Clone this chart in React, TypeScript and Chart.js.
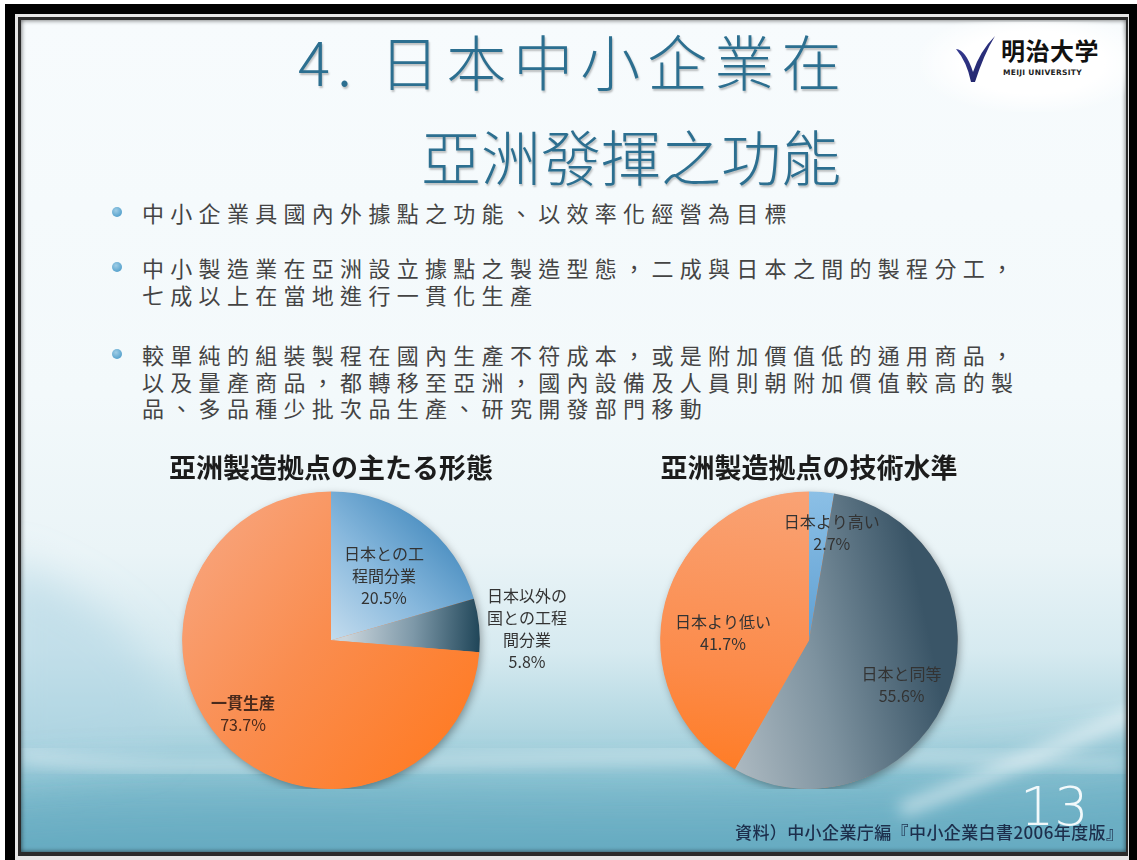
import React, { useEffect, useRef } from "react";
import { Chart, registerables } from "chart.js";

Chart.register(...registerables);

// ---------- data ----------
const slideTitleLine1 = "4. 日本中小企業在";
const slideTitleLine2 = "亞洲發揮之功能";

const bulletLines = [
  ["中小企業具國內外據點之功能、以效率化經營為目標"],
  ["中小製造業在亞洲設立據點之製造型態，二成與日本之間的製程分工，", "七成以上在當地進行一貫化生產"],
  [
    "較單純的組裝製程在國內生產不符成本，或是附加價值低的通用商品，",
    "以及量產商品，都轉移至亞洲，國內設備及人員則朝附加價值較高的製",
    "品、多品種少批次品生產、研究開發部門移動",
  ],
];

const formTitle = "亞洲製造拠点の主たる形態";
const formCategories = ["日本との工程間分業", "日本以外の国との工程間分業", "一貫生産"];
const formLabelLines = [["日本との工", "程間分業"], ["日本以外の", "国との工程", "間分業"], ["一貫生産"]];
const formValues = [20.5, 5.8, 73.7];

const techTitle = "亞洲製造拠点の技術水準";
const techCategories = ["日本より高い", "日本と同等", "日本より低い"];
const techLabelLines = [["日本より高い"], ["日本と同等"], ["日本より低い"]];
const techValues = [2.7, 55.6, 41.7];

const sourceNote = "資料）中小企業庁編『中小企業白書2006年度版』";
const pageNumber = "13";

// ---------- styles ----------
const CJK = '"Noto Sans CJK JP", "Noto Sans CJK TC", sans-serif';
const CJK_TC = '"Noto Sans CJK TC", "Noto Sans CJK JP", sans-serif';

type Stop = [number, string];
type GradSpec = { from: [number, number]; to: [number, number]; stops: Stop[] };

// gradient endpoints expressed as fractions of the radius around the pie centre
const formGradients: GradSpec[] = [
  { from: [0.05, 0.05], to: [0.85, -0.75], stops: [[0, "#c3dcee"], [0.5, "#86b7dc"], [1, "#4389bd"]] },
  { from: [0.1, 0], to: [1, 0.05], stops: [[0, "#c9d4db"], [0.5, "#7d98a8"], [1, "#1f4558"]] },
  { from: [-0.9, -0.6], to: [0.8, 0.8], stops: [[0, "#f8a278"], [0.45, "#fa8d4f"], [1, "#ff7b24"]] },
];
const techGradients: GradSpec[] = [
  { from: [0, -1], to: [0.15, 0], stops: [[0, "#8cc0e6"], [1, "#5f9fd2"]] },
  { from: [-0.5, 0.7], to: [0.9, 0.4], stops: [[0, "#aab7bf"], [0.45, "#7d929f"], [1, "#3a5567"]] },
  { from: [-0.3, -1], to: [-0.5, 1], stops: [[0, "#f9a274"], [0.6, "#fc8b4a"], [1, "#ff7a20"]] },
];

// label placement: [radius factor, angle offset in degrees]
const formLabelPlace = [[0.56, 2.5], [1.32, 2.4], [0.77, 2.8]];
const techLabelPlace = [[0.74, 7.1], [0.69, 5.8], [0.58, -10]];

function makeGradient(chart: any, spec: GradSpec) {
  const area = chart.chartArea;
  if (!area) return spec.stops[1][1];
  const cx = (area.left + area.right) / 2;
  const cy = (area.top + area.bottom) / 2;
  const r = Math.min(area.right - area.left, area.bottom - area.top) / 2;
  const g = chart.ctx.createLinearGradient(
    cx + spec.from[0] * r,
    cy + spec.from[1] * r,
    cx + spec.to[0] * r,
    cy + spec.to[1] * r
  );
  spec.stops.forEach(([o, c]) => g.addColorStop(o, c));
  return g;
}

const pieShadow = {
  id: "pieShadow",
  beforeDatasetsDraw(chart: any) {
    const arc = chart.getDatasetMeta(0).data[0];
    if (!arc) return;
    const p = arc.getProps(["x", "y", "outerRadius"], true);
    const ctx = chart.ctx;
    ctx.save();
    ctx.shadowColor = "rgba(0,0,0,0.35)";
    ctx.shadowBlur = 9;
    ctx.shadowOffsetX = 2;
    ctx.shadowOffsetY = 3;
    ctx.beginPath();
    ctx.arc(p.x, p.y, p.outerRadius - 0.5, 0, Math.PI * 2);
    ctx.fillStyle = "#f48a4c";
    ctx.fill();
    ctx.restore();
  },
};

function sliceLabels(lines: string[][], place: number[][], boldIndex: number) {
  return {
    id: "sliceLabels",
    afterDatasetsDraw(chart: any) {
      const meta = chart.getDatasetMeta(0);
      const values = chart.data.datasets[0].data as number[];
      const ctx = chart.ctx;
      ctx.save();
      ctx.fillStyle = "#333333";
      ctx.textAlign = "center";
      ctx.textBaseline = "middle";
      meta.data.forEach((arc: any, i: number) => {
        const p = arc.getProps(["x", "y", "startAngle", "endAngle", "outerRadius"], true);
        const a = (p.startAngle + p.endAngle) / 2 + (place[i][1] * Math.PI) / 180;
        const r = p.outerRadius * place[i][0];
        const cx = p.x + Math.cos(a) * r;
        const cy = p.y + Math.sin(a) * r;
        const all = [...lines[i], values[i].toFixed(1) + "%"];
        const lh = 22;
        all.forEach((t, k) => {
          const isName = k < all.length - 1;
          ctx.font = `${isName && i === boldIndex ? 700 : 400} 16px ${CJK}`;
          ctx.fillStyle = i === boldIndex ? "#4a2a1c" : "#333333";
          ctx.fillText(t, cx, cy + (k - (all.length - 1) / 2) * lh);
        });
      });
      ctx.restore();
    },
  };
}

function PieChart(props: {
  title: string;
  categories: string[];
  values: number[];
  gradients: GradSpec[];
  labelLines: string[][];
  labelPlace: number[][];
  boldIndex: number;
  width: number;
  height: number;
  style: React.CSSProperties;
}) {
  const ref = useRef<HTMLCanvasElement>(null);
  useEffect(() => {
    if (!ref.current) return;
    const chart = new Chart(ref.current, {
      type: "pie",
      data: {
        labels: props.categories,
        datasets: [
          {
            data: props.values,
            backgroundColor: (ctx: any) => makeGradient(ctx.chart, props.gradients[ctx.dataIndex]),
            borderWidth: 0,
          },
        ],
      },
      options: {
        responsive: false,
        animation: false,
        layout: { padding: 0 },
        plugins: {
          legend: { display: false },
          tooltip: { enabled: false },
          title: {
            display: true,
            text: props.title,
            color: "#1c1c1c",
            font: { family: CJK, size: 27, weight: "bold", lineHeight: 1.2 },
            padding: { top: 0, bottom: 7 },
          },
        },
      },
      plugins: [pieShadow, sliceLabels(props.labelLines, props.labelPlace, props.boldIndex)],
    } as any);
    return () => chart.destroy();
  }, []);
  return (
    <canvas
      ref={ref}
      width={props.width}
      height={props.height}
      style={{ position: "absolute", width: props.width, height: props.height, ...props.style }}
    />
  );
}

export default function App() {
  const bulletTops = [199, 254, 341];
  const lineH = 26.5;
  return (
    <div style={{ position: "absolute", left: 0, top: 0, width: 1137, height: 860, background: "#ffffff", overflow: "hidden" }}>
      {/* frame */}
      <div style={{ position: "absolute", left: 5, top: 4, width: 1132, height: 856, background: "#000" }} />
      <div style={{ position: "absolute", left: 15, top: 14, width: 1114, height: 846, background: "#e6e6e6" }} />
      <div style={{ position: "absolute", left: 18, top: 17, width: 1110, height: 839, background: "#2a2a2a" }} />
      {/* slide */}
      <div
        style={{
          position: "absolute",
          left: 21,
          top: 20,
          width: 1105,
          height: 832,
          overflow: "hidden",
          background:
            "linear-gradient(180deg, #f7fbfd 0%, #f3f9fb 45%, #eaf4f7 64%, #d6eaf0 76%, #aed5e0 86%, #8cc3d2 93%, #78b6c8 100%)",
        }}
      >
        <svg width={1105} height={832} style={{ position: "absolute", left: 0, top: 0 }}>
          <defs>
            <filter id="blur8" x="-20%" y="-50%" width="140%" height="200%"><feGaussianBlur stdDeviation="8" /></filter>
            <filter id="blur20" x="-20%" y="-50%" width="140%" height="200%"><feGaussianBlur stdDeviation="20" /></filter>
          </defs>
          <path d="M-20,540 C100,580 170,660 130,730 L-20,760 Z" fill="rgba(176,214,227,0.55)" filter="url(#blur20)" />
          <path d="M-40,760 C250,730 600,790 1145,720 L1145,872 L-40,872 Z" fill="rgba(92,164,188,0.35)" filter="url(#blur20)" />
          <path d="M-40,800 C300,770 700,820 1145,770 L1145,872 L-40,872 Z" fill="rgba(86,158,184,0.3)" filter="url(#blur20)" />
          <path d="M0,735 C220,770 520,715 1105,745" stroke="rgba(255,255,255,0.45)" strokeWidth="10" fill="none" filter="url(#blur8)" />
          <path d="M880,790 C960,760 1040,725 1120,690" stroke="rgba(255,255,255,0.55)" strokeWidth="14" fill="none" filter="url(#blur8)" />
        </svg>
        <div style={{ position: "absolute", inset: 0, boxShadow: "inset 0 0 5px rgba(0,0,0,0.65)" }} />
      </div>

      {/* logo */}
      <div
        style={{
          position: "absolute",
          left: 920,
          top: 22,
          width: 205,
          height: 90,
          background: "radial-gradient(ellipse at 55% 45%, rgba(255,255,255,1) 45%, rgba(255,255,255,0) 75%)",
        }}
      />
      <svg width={42} height={50} style={{ position: "absolute", left: 955, top: 34 }}>
        <defs>
          <linearGradient id="vg" x1="0" y1="0" x2="1" y2="1">
            <stop offset="0" stopColor="#3a3f9a" />
            <stop offset="1" stopColor="#1c2060" />
          </linearGradient>
        </defs>
        <path d="M1,15 Q11,16 18,38 Q25,17 40,2 Q29,20 20,48 L16,48 Q12,28 1,15 Z" fill="url(#vg)" />
      </svg>
      <div style={{ position: "absolute", left: 1001, top: 35, fontFamily: CJK, fontWeight: 700, fontSize: 24, lineHeight: "30px", color: "#111", whiteSpace: "nowrap", letterSpacing: 0.5 }}>
        明治大学
      </div>
      <div style={{ position: "absolute", left: 1003, top: 68, fontFamily: '"DejaVu Sans", sans-serif', fontWeight: 700, fontSize: 7.5, lineHeight: "9px", color: "#222", letterSpacing: 0.3, whiteSpace: "nowrap" }}>
        MEIJI UNIVERSITY
      </div>

      {/* title */}
      <div style={{ position: "absolute", left: 298, top: 20, fontFamily: CJK_TC, fontWeight: 300, fontSize: 60, lineHeight: "80px", color: "#2c6f90", letterSpacing: 7, whiteSpace: "nowrap", textShadow: "1px 2px 2px rgba(0,0,0,0.25)" }}>
        {slideTitleLine1}
      </div>
      <div style={{ position: "absolute", left: 421, top: 115, fontFamily: CJK_TC, fontWeight: 300, fontSize: 60, lineHeight: "80px", color: "#2c6f90", letterSpacing: 0, whiteSpace: "nowrap", textShadow: "1px 2px 2px rgba(0,0,0,0.25)" }}>
        {slideTitleLine2}
      </div>

      {/* bullets */}
      {bulletLines.map((lines, i) => (
        <React.Fragment key={i}>
          <div
            style={{
              position: "absolute",
              left: 112,
              top: bulletTops[i] + lineH / 2 - 5,
              width: 10,
              height: 10,
              borderRadius: "50%",
              background: "radial-gradient(circle at 40% 35%, #9fcde6 0%, #5aa4ce 70%, #4a93bd 100%)",
            }}
          />
          <div
            style={{
              position: "absolute",
              left: 142,
              top: bulletTops[i],
              fontFamily: CJK_TC,
              fontWeight: 400,
              fontSize: 22,
              lineHeight: `${lineH}px`,
              letterSpacing: 6.3,
              color: "#444444",
              whiteSpace: "pre",
            }}
          >
            {lines.join("\n")}
          </div>
        </React.Fragment>
      ))}

      {/* charts */}
      <PieChart
        title={formTitle}
        categories={formCategories}
        values={formValues}
        gradients={formGradients}
        labelLines={formLabelLines}
        labelPlace={formLabelPlace}
        boldIndex={2}
        width={490}
        height={337}
        style={{ left: 86, top: 452 }}
      />
      <PieChart
        title={techTitle}
        categories={techCategories}
        values={techValues}
        gradients={techGradients}
        labelLines={techLabelLines}
        labelPlace={techLabelPlace}
        boldIndex={-1}
        width={460}
        height={337}
        style={{ left: 579, top: 452 }}
      />

      {/* page number and source */}
      <div style={{ position: "absolute", left: 1020, top: 780, fontFamily: '"DejaVu Sans", sans-serif', fontWeight: 200, fontSize: 54, lineHeight: "54px", color: "#f2f9fb", whiteSpace: "nowrap" }}>
        {pageNumber}
      </div>
      <div style={{ position: "absolute", left: 735, top: 820, fontFamily: CJK, fontWeight: 500, fontSize: 17, lineHeight: "24px", color: "#1d2f4c", letterSpacing: 0.4, whiteSpace: "nowrap" }}>
        {sourceNote}
      </div>
    </div>
  );
}
